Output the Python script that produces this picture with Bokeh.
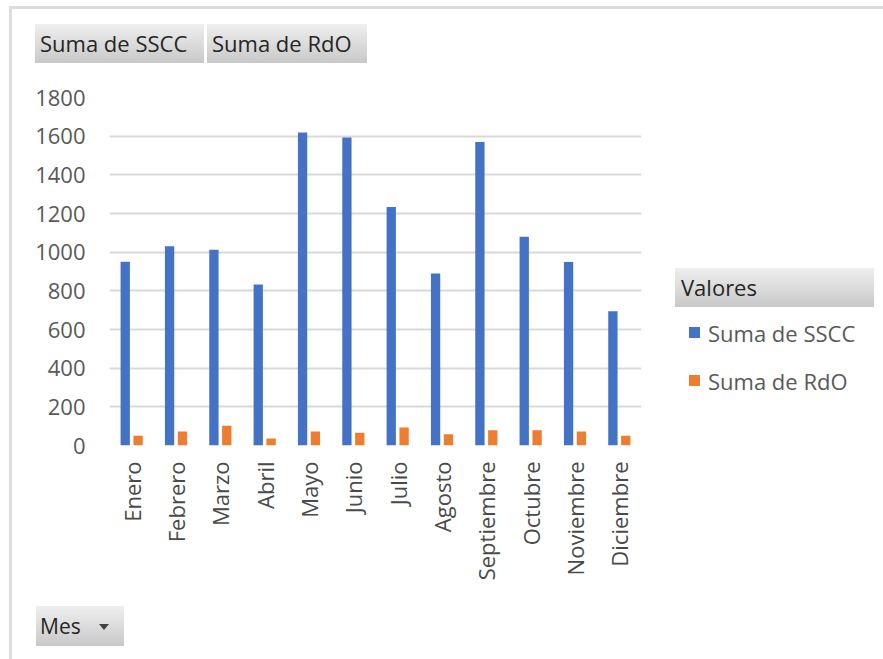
from math import pi
from bokeh.plotting import figure
from bokeh.layouts import row, column
from bokeh.models import FactorRange, Range1d, FixedTicker, ColumnDataSource, Div
from bokeh.transform import dodge
from bokeh.embed import file_html
from bokeh.resources import INLINE

# ---- data ----
months = ["Enero", "Febrero", "Marzo", "Abril", "Mayo", "Junio", "Julio",
          "Agosto", "Septiembre", "Octubre", "Noviembre", "Diciembre"]
sscc = [950, 1030, 1013, 833, 1619, 1593, 1234, 890, 1570, 1080, 949, 694]
rdo = [50, 72, 102, 36, 72, 66, 93, 58, 79, 79, 72, 50]
y_ticks = [0, 200, 400, 600, 800, 1000, 1200, 1400, 1600, 1800]
series_names = ["Suma de SSCC", "Suma de RdO"]
legend_title = "Valores"
field_button = "Mes"

BLUE = "#4472C4"
ORANGE = "#ED7D31"
colors = [BLUE, ORANGE]
FONT = "Open Sans"
LINE = "#dcdcdc"
GRAD = "linear-gradient(to bottom, #efefef 0%, #dadada 55%, #c8c8c8 100%)"

src = ColumnDataSource(dict(mes=months, sscc=sscc, rdo=rdo))

HEAD_H = 72          # header strip height
FIG_H = 600 - HEAD_H  # chart strip height

# ---- chart ----
p = figure(width=648, height=FIG_H, x_range=FactorRange(factors=months),
           y_range=Range1d(0, 1800), output_backend="svg", toolbar_location=None,
           min_border_left=97, min_border_right=19, min_border_top=97 - HEAD_H,
           min_border_bottom=155, margin=0)
p.outline_line_color = None
p.background_fill_color = "white"
p.border_fill_color = "white"

p.vbar(x=dodge("mes", -0.145, range=p.x_range), top="sscc", width=0.21,
       source=src, fill_color=BLUE, line_color=None)
p.vbar(x=dodge("mes", 0.145, range=p.x_range), top="rdo", width=0.21,
       source=src, fill_color=ORANGE, line_color=None)

p.xgrid.grid_line_color = None
p.ygrid.grid_line_color = "#d9d9d9"
p.ygrid.grid_line_width = 2
p.yaxis.ticker = FixedTicker(ticks=y_ticks)
for ax in (p.xaxis[0], p.yaxis[0]):
    ax.axis_line_color = None
    ax.major_tick_line_color = None
    ax.minor_tick_line_color = None
    ax.major_tick_out = 0
    ax.major_tick_in = 0
    ax.major_label_text_font = FONT
    ax.major_label_text_font_size = "22px"
    ax.major_label_text_color = "#595959"
p.yaxis.major_label_standoff = 24
p.xaxis.major_label_orientation = pi / 2
p.xaxis.major_label_standoff = 16
p.xaxis.major_label_text_color = "#4a4a4a"


def absbox(left, top, w, h, inner="", style=""):
    return (f'<div style="position:absolute;left:{left}px;top:{top}px;width:{w}px;'
            f'height:{h}px;{style}">{inner}</div>')


def btn(left, top, w, h, text, size=22, pad=5):
    return absbox(left, top, w, h, text,
                  f"background:{GRAD};font-family:'{FONT}';font-size:{size}px;"
                  f"line-height:{h}px;color:#262626;padding-left:{pad}px;"
                  "box-sizing:border-box;white-space:nowrap;overflow:hidden;")


def wrap(w, h, inner):
    return f'<div style="position:relative;width:{w}px;height:{h}px;margin:0;">{inner}</div>'


# left border strip (x 0..12)
left_strip = Div(width=12, height=659, margin=0,
                 text=wrap(12, 659, absbox(9, 6, 3, 653, "", f"background:{LINE};")))

# header (x 12..883, y 0..HEAD_H)
header_html = (absbox(0, 6, 871, 3, "", f"background:{LINE};")
               + btn(23, 24, 169, 39, series_names[0])
               + btn(195, 24, 160, 39, series_names[1]))
header = Div(width=871, height=HEAD_H, margin=0, text=wrap(871, HEAD_H, header_html))

# legend (x 660..883, y HEAD_H..600)
leg_html = btn(15, 268 - HEAD_H, 199, 39, legend_title, pad=6)
for i, (name, c) in enumerate(zip(series_names, colors)):
    cy = 333 - HEAD_H + 48 * i
    leg_html += absbox(29, cy - 6, 11, 11, "", f"background:{c};")
    leg_html += absbox(48, cy - 16, 175, 32, name,
                       f"font-family:'{FONT}';font-size:22px;line-height:32px;"
                       "color:#595959;white-space:nowrap;")
legend = Div(width=223, height=FIG_H, margin=0, text=wrap(223, FIG_H, leg_html))

# footer (x 12..883, y 600..659)
tri = absbox(87, 24, 0, 0, "",
             "border-left:5px solid transparent;border-right:5px solid transparent;"
             "border-top:6px solid #404040;")
foot_html = btn(24, 6, 88, 40, field_button, size=21, pad=4) + tri
footer = Div(width=871, height=59, margin=0, text=wrap(871, 59, foot_html))

layout = row(left_strip, column(header, row(p, legend, spacing=0), footer, spacing=0),
             spacing=0)

open("out.html", "w").write(file_html(layout, INLINE))
